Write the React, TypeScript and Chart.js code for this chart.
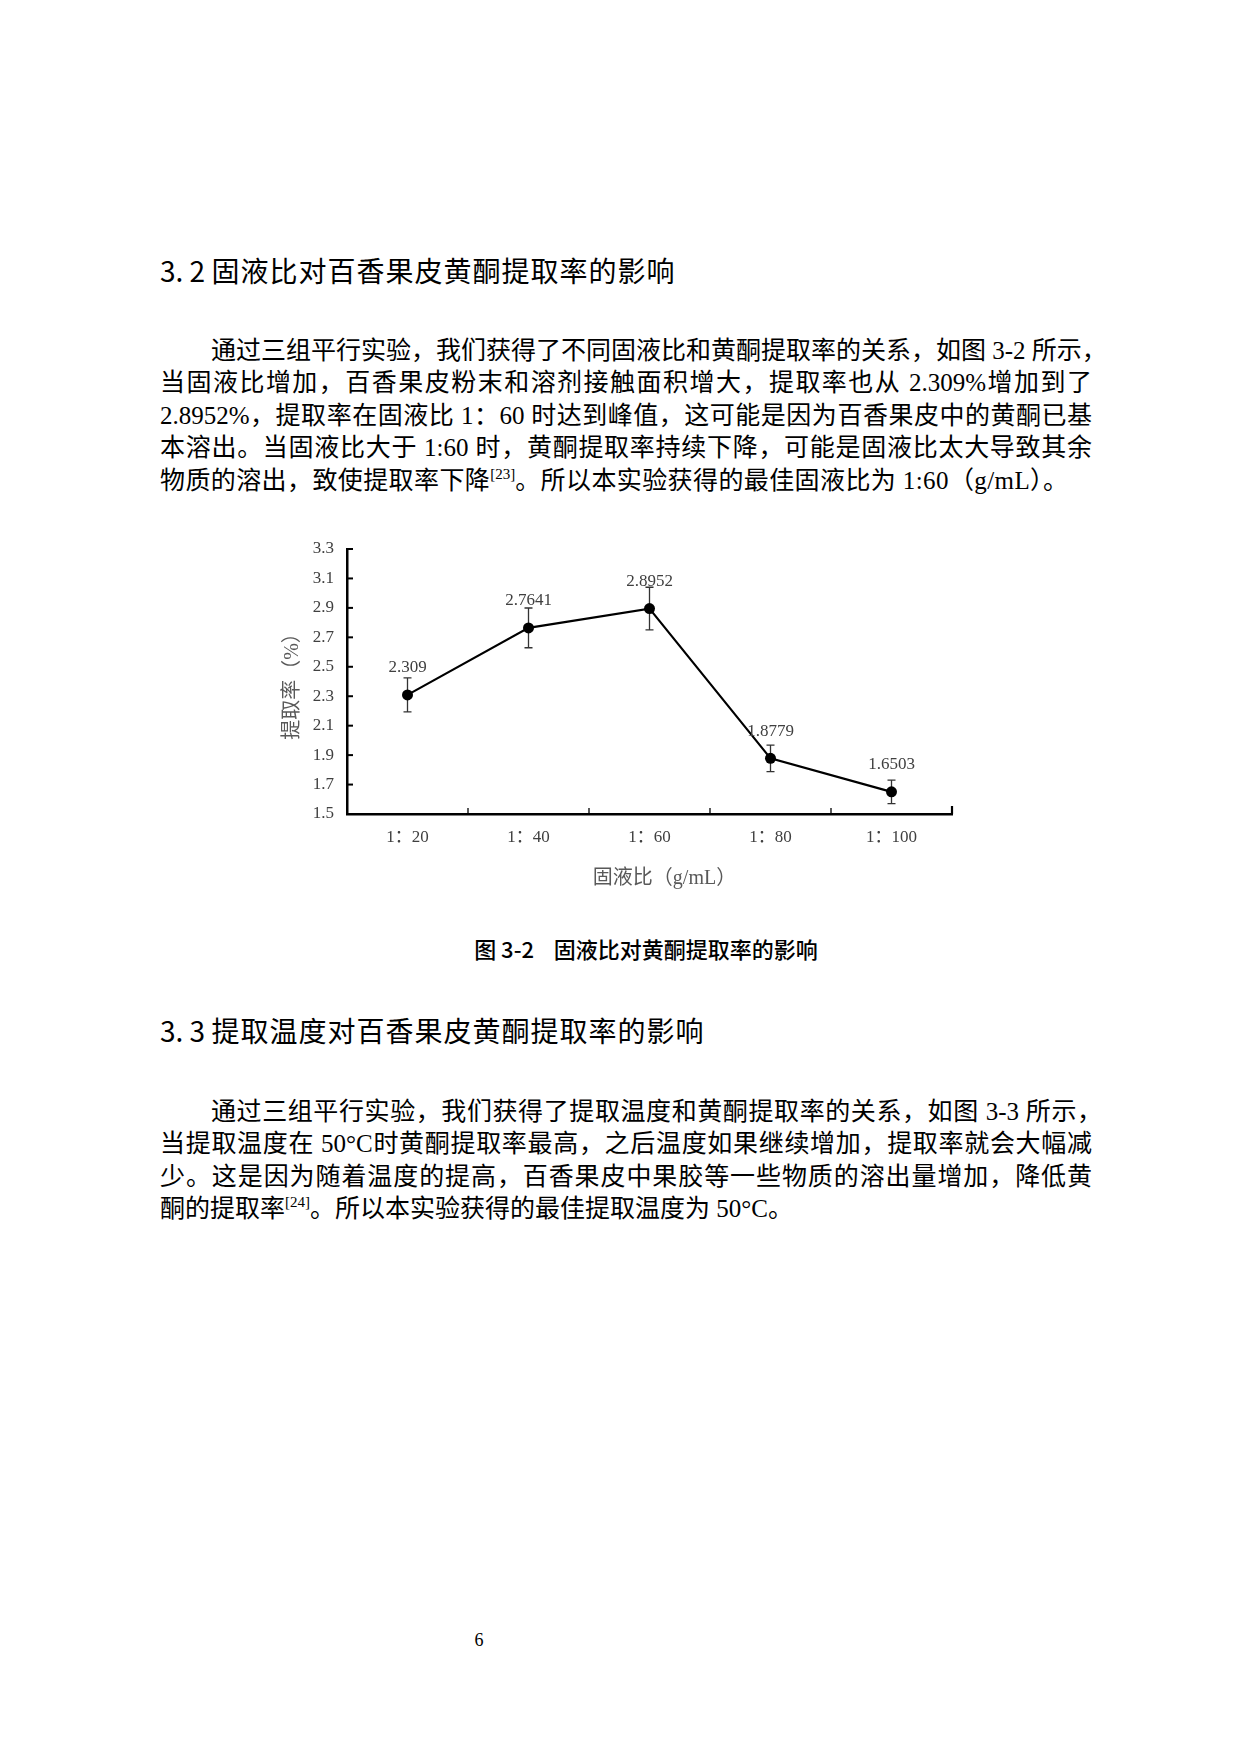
import React, { useEffect, useRef } from "react";
import { Chart, registerables } from "chart.js";

Chart.register(...registerables);

const categories = ["1：20", "1：40", "1：60", "1：80", "1：100"];
const rates = [2.309, 2.7641, 2.8952, 1.8779, 1.6503];
const errors = [0.115, 0.135, 0.145, 0.09, 0.08];
const yMin = 1.5;
const yMax = 3.3;
const yStep = 0.2;
const xTitle = "固液比（g/mL）";
const yTitle = "提取率（%）";

const serif = '"Liberation Serif", "Noto Sans CJK SC"';
const sans = '"Noto Sans CJK SC", "Noto Sans", sans-serif';

const inwardTicks = {
  id: "inwardTicks",
  afterDraw(chart: any) {
    const ctx = chart.ctx;
    const xs = chart.scales.x;
    const ys = chart.scales.y;
    const area = chart.chartArea;
    ctx.save();
    ctx.strokeStyle = "#000";
    ctx.lineWidth = 2;
    ys.ticks.forEach((_t: any, i: number) => {
      const y = ys.getPixelForTick(i);
      ctx.beginPath();
      ctx.moveTo(area.left, y);
      ctx.lineTo(area.left + 6, y);
      ctx.stroke();
    });
    for (let i = 1; i <= categories.length; i++) {
      const x = xs.getPixelForValue(i - 0.5);
      const len = i === categories.length ? 8 : 6;
      ctx.lineWidth = i === categories.length ? 2.2 : 1.3;
      ctx.beginPath();
      ctx.moveTo(x, area.bottom);
      ctx.lineTo(x, area.bottom - len);
      ctx.stroke();
    }
    ctx.restore();
  },
};

const xAxisTitle = {
  id: "xAxisTitle",
  afterDraw(chart: any) {
    const ctx = chart.ctx;
    const area = chart.chartArea;
    ctx.save();
    ctx.font = "20px " + serif;
    ctx.fillStyle = "#595959";
    ctx.textAlign = "center";
    ctx.textBaseline = "middle";
    ctx.fillText(xTitle, (area.left + area.right) / 2 + 15, area.bottom + 65);
    ctx.restore();
  },
};

const errorBars = {
  id: "errorBars",
  beforeDatasetsDraw(chart: any) {
    const ctx = chart.ctx;
    const xs = chart.scales.x;
    const ys = chart.scales.y;
    ctx.save();
    ctx.strokeStyle = "#333";
    ctx.lineWidth = 1.3;
    rates.forEach((v, i) => {
      const x = xs.getPixelForValue(i);
      const yTop = ys.getPixelForValue(v + errors[i]);
      const yBot = ys.getPixelForValue(v - errors[i]);
      ctx.beginPath();
      ctx.moveTo(x, yTop);
      ctx.lineTo(x, yBot);
      ctx.moveTo(x - 4, yTop);
      ctx.lineTo(x + 4, yTop);
      ctx.moveTo(x - 4, yBot);
      ctx.lineTo(x + 4, yBot);
      ctx.stroke();
    });
    ctx.restore();
  },
};

const valueLabels = {
  id: "valueLabels",
  afterDatasetsDraw(chart: any) {
    const ctx = chart.ctx;
    const meta = chart.getDatasetMeta(0);
    ctx.save();
    ctx.font = "17px " + serif;
    ctx.fillStyle = "#404040";
    ctx.textAlign = "center";
    ctx.textBaseline = "middle";
    meta.data.forEach((pt: any, i: number) => {
      ctx.fillText(String(rates[i]), pt.x, pt.y - 27);
    });
    ctx.restore();
  },
};

function RateChart() {
  const ref = useRef<HTMLCanvasElement | null>(null);
  useEffect(() => {
    if (!ref.current) return;
    const chart = new Chart(ref.current, {
      type: "line",
      data: {
        labels: categories,
        datasets: [
          {
            data: rates,
            borderColor: "#000",
            borderWidth: 2.2,
            pointRadius: 5.5,
            pointBackgroundColor: "#000",
            pointBorderColor: "#000",
            pointBorderWidth: 0,
            tension: 0,
          },
        ],
      },
      options: {
        animation: false,
        responsive: false,
        devicePixelRatio: 1,
        layout: { padding: { left: 38, right: 28, top: 28, bottom: 28 } },
        plugins: { legend: { display: false }, tooltip: { enabled: false } },
        scales: {
          x: {
            type: "category",
            offset: true,
            afterFit: (s: any) => {
              s.height = 79;
            },
            grid: { display: true, drawOnChartArea: false, drawTicks: false, offset: true },
            border: { display: true, color: "#000", width: 2.5 },
            ticks: {
              padding: 13,
              color: "#404040",
              font: { family: serif, size: 17 },
              maxRotation: 0,
            },
            title: { display: false, text: xTitle },
          },
          y: {
            min: yMin,
            max: yMax,
            afterFit: (s: any) => {
              s.width = 69;
            },
            grid: { display: true, drawOnChartArea: false, drawTicks: false },
            border: { display: true, color: "#000", width: 2.5 },
            ticks: {
              stepSize: yStep,
              padding: 13,
              color: "#404040",
              font: { family: serif, size: 17 },
              callback: (v: any) => Number(v).toFixed(1),
            },
            title: {
              display: true,
              text: yTitle,
              color: "#595959",
              font: { family: serif, size: 20 },
              padding: { top: 3, bottom: 3 },
            },
          },
        },
      },
      plugins: [errorBars, valueLabels, inwardTicks, xAxisTitle],
    } as any);
    return () => chart.destroy();
  }, []);
  return <canvas ref={ref} width={740} height={400} style={{ display: "block", width: 740, height: 400 }} />;
}

const bodyFont: React.CSSProperties = {
  fontFamily: serif,
  fontSize: 25,
  lineHeight: "33px",
  color: "#000",
  whiteSpace: "nowrap",
  position: "absolute",
};

function Line(props: { top: number; left: number; width: number; justify?: boolean; spacing?: number; children: any }) {
  return (
    <div
      style={{
        ...bodyFont,
        top: props.top - 16.5,
        left: props.left,
        width: props.width,
        textAlign: props.justify ? "justify" : "left",
        textAlignLast: props.justify ? "justify" : "left",
        letterSpacing: props.spacing ? props.spacing : 0,
      } as any}
    >
      {props.children}
    </div>
  );
}

const supStyle: React.CSSProperties = { fontSize: 15, lineHeight: 0, verticalAlign: 10, letterSpacing: 0 };

const headStyle: React.CSSProperties = {
  position: "absolute",
  left: 160,
  fontFamily: sans,
  fontSize: 28,
  lineHeight: "36px",
  letterSpacing: 1,
  whiteSpace: "pre",
  color: "#000",
};

export default function App() {
  return (
    <div style={{ position: "absolute", left: 0, top: 0, width: 1240, height: 1754, background: "#fff", overflow: "hidden" }}>
      <div style={{ ...headStyle, top: 252 }}>
        <span style={{ letterSpacing: 0 }}>3. 2 </span>固液比对百香果皮黄酮提取率的影响
      </div>
      <Line top={350} left={211} width={891} justify>通过三组平行实验，我们获得了不同固液比和黄酮提取率的关系，如图 3-2 所示，</Line>
      <Line top={382.5} left={160} width={932} justify>当固液比增加，百香果皮粉末和溶剂接触面积增大，提取率也从 2.309%增加到了</Line>
      <Line top={415} left={160} width={932} justify>2.8952%，提取率在固液比 1：60 时达到峰值，这可能是因为百香果皮中的黄酮已基</Line>
      <Line top={447.5} left={160} width={932} justify>本溶出。当固液比大于 1:60 时，黄酮提取率持续下降，可能是固液比太大导致其余</Line>
      <Line top={480} left={160} width={960} spacing={0.4}>
        物质的溶出，致使提取率下降<span style={supStyle as any}>[23]</span>。所以本实验获得的最佳固液比为 1:60（g/mL）。
      </Line>

      <div style={{ position: "absolute", left: 240, top: 521, width: 740, height: 400 }}>
        <RateChart />
      </div>

      <div style={{ position: "absolute", left: 0, width: 1292, top: 932, textAlign: "center", fontFamily: sans, fontSize: 22, fontWeight: 500, lineHeight: "32px", color: "#000", whiteSpace: "pre" }}>
        图 3-2{"    "}固液比对黄酮提取率的影响
      </div>

      <div style={{ ...headStyle, top: 1012 }}>
        <span style={{ letterSpacing: 0 }}>3. 3 </span>提取温度对百香果皮黄酮提取率的影响
      </div>
      <Line top={1111} left={211} width={891} justify>通过三组平行实验，我们获得了提取温度和黄酮提取率的关系，如图 3-3 所示，</Line>
      <Line top={1143.5} left={160} width={932} justify>当提取温度在 50°C时黄酮提取率最高，之后温度如果继续增加，提取率就会大幅减</Line>
      <Line top={1176} left={160} width={932} justify>少。这是因为随着温度的提高，百香果皮中果胶等一些物质的溶出量增加，降低黄</Line>
      <Line top={1208.5} left={160} width={900}>
        酮的提取率<span style={supStyle as any}>[24]</span>。所以本实验获得的最佳提取温度为 50°C。
      </Line>

      <div style={{ position: "absolute", left: 469, width: 20, top: 1628, textAlign: "center", fontFamily: serif, fontSize: 18, lineHeight: "24px", color: "#000" }}>
        6
      </div>
    </div>
  );
}
